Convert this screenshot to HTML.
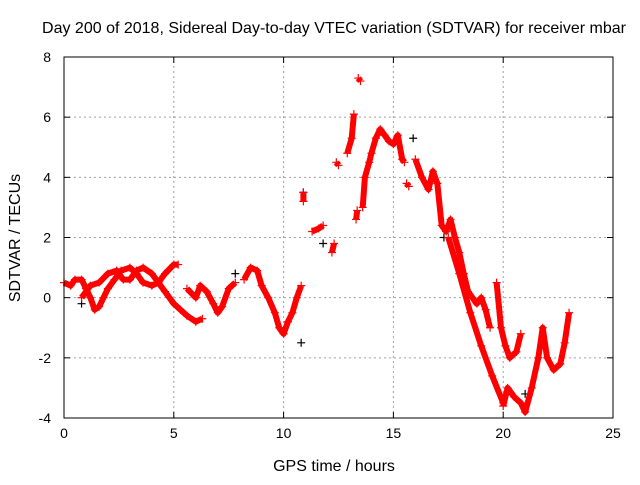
<!DOCTYPE html>
<html><head><meta charset="utf-8"><style>
body{margin:0;background:#fff}
svg text{font-family:"Liberation Sans",sans-serif;font-size:14px;fill:#000}
svg text.big{font-size:16px}
</style></head><body>
<svg id="chart" width="640" height="480">
<rect width="640" height="480" fill="#fff"/>
<text class="big" x="334" y="33" text-anchor="middle">Day 200 of 2018, Sidereal Day-to-day VTEC variation (SDTVAR) for receiver mbar</text>
<text class="big" x="334" y="471" text-anchor="middle">GPS time / hours</text>
<text class="big" transform="translate(20,238) rotate(-90)" text-anchor="middle">SDTVAR / TECUs</text>
<g id="grid"></g><g id="marks"></g><g id="axes"></g>
</svg>
<script>
const xTicks=[0,5,10,15,20,25];
const yTicks=[-4,-2,0,2,4,6,8];
const seriesATime=[0,0.3,0.5,0.8,1.0,1.2,1.4,1.6,1.8,2.0,2.3,2.6,3.0,3.3,3.6,4.0,4.3,4.6,5.0,5.2,null,5.6,6.0,6.2,6.5,6.8,7.0,7.2,7.5,7.8,null,8.2,8.5,8.8,9.0,9.3,9.6,9.8,10.0,10.2,10.4,10.6,10.8,null,10.9,10.9,null,11.3,11.6,11.8,null,12.2,12.3,null,12.4,12.5,null,12.9,13.1,13.2,null,13.3,13.35,null,13.4,13.5,null,13.6,13.7,13.9,14.0,14.2,14.4,14.6,14.8,15.0,15.2,15.4,15.5,null,15.6,15.7,null,16.0,16.3,16.6,16.8,17.0,17.2,17.4,17.6,17.8,18.0,18.2,18.4,18.6,18.8,19.0,19.2,19.4,null,19.7,19.9,20.1,20.3,20.6,20.8,null,20.0,20.2,20.5,20.8,21.0,21.3,21.6,21.8,22.0,22.3,22.6,22.8,23.0];
const seriesAVal=[0.5,0.4,0.6,0.6,0.3,0.0,-0.4,-0.3,0.0,0.3,0.6,0.9,1.0,0.8,0.5,0.4,0.5,0.8,1.1,1.1,null,0.3,0.0,0.4,0.2,-0.2,-0.5,-0.3,0.3,0.5,null,0.6,1.0,0.9,0.4,0.0,-0.5,-1.0,-1.2,-0.8,-0.5,0.0,0.4,null,3.2,3.5,null,2.2,2.3,2.4,null,1.5,1.8,null,4.5,4.4,null,4.8,5.3,6.1,null,2.6,2.9,null,7.3,7.2,null,3.0,4.0,4.5,4.8,5.3,5.6,5.4,5.2,5.1,5.4,4.6,4.5,null,3.8,3.7,null,4.6,4.0,3.6,4.2,3.8,2.4,2.2,2.6,2.0,1.5,0.8,0.2,0.0,-0.2,0.0,-0.4,-1.0,null,0.5,-1.0,-1.6,-2.0,-1.8,-1.2,null,-3.6,-3.0,-3.3,-3.5,-3.8,-3.0,-2.0,-1.0,-2.0,-2.4,-2.2,-1.5,-0.5];
const seriesBTime=[0.8,1.2,1.6,2.0,2.4,2.7,3.0,3.3,3.6,4.0,4.3,4.6,5.0,5.3,5.6,6.0,6.3,null,17.5,18.0,18.5,19.0,19.5,20.0];
const seriesBVal=[0.0,0.4,0.5,0.8,0.9,0.6,0.6,0.9,1.0,0.8,0.5,0.2,-0.2,-0.4,-0.6,-0.8,-0.7,null,2.0,0.8,-0.5,-1.6,-2.6,-3.5];
const blackTime=[0.8,7.8,10.8,10.9,11.8,15.9,17.3,21.0];
const blackVal=[-0.2,0.8,-1.5,3.5,1.8,5.3,2.0,-3.2];
const NS="http://www.w3.org/2000/svg";
const X0=64,X1=613,Y0=418,Y1=57;
const xs=t=>X0+(t-0)/(25-0)*(X1-X0);
const ys=v=>Y0-(v+4)/(12)*(Y0-Y1);
function mk(tag,attrs,parent){const e=document.createElementNS(NS,tag);for(const k in attrs)e.setAttribute(k,attrs[k]);parent.appendChild(e);return e;}
const grid=document.getElementById('grid'),axes=document.getElementById('axes'),marks=document.getElementById('marks');
xTicks.forEach(t=>{
 if(t>0&&t<25){const g=mk('line',{x1:xs(t),x2:xs(t),y1:Y0,y2:Y1,stroke:'#a0a0a0','stroke-dasharray':'2,3'},grid);
 
 }
 mk('line',{x1:xs(t),x2:xs(t),y1:Y0,y2:Y0-6,stroke:'#000'},axes);
 mk('line',{x1:xs(t),x2:xs(t),y1:Y1,y2:Y1+6,stroke:'#000'},axes);
 const tx=mk('text',{x:xs(t),y:Y0+20,'text-anchor':'middle'},axes);tx.textContent=t;
 
 
});
yTicks.forEach(v=>{
 if(v>-4&&v<8){const g=mk('line',{x1:X0,x2:X1,y1:ys(v),y2:ys(v),stroke:'#a0a0a0','stroke-dasharray':'2,3'},grid);
 
 }
 mk('line',{x1:X0,x2:X0+6,y1:ys(v),y2:ys(v),stroke:'#000'},axes);
 mk('line',{x1:X1,x2:X1-6,y1:ys(v),y2:ys(v),stroke:'#000'},axes);
 const tx=mk('text',{x:X0-13,y:ys(v)+5,'text-anchor':'end'},axes);tx.textContent=v;
 
 
});
const fr=mk('rect',{x:X0,y:Y1,width:X1-X0,height:Y0-Y1,fill:'none',stroke:'#000'},axes);


function drawSeries(T,V,color,name,line){
 const g=mk('g',{},marks);
 
 
 if(line){let d='',pen=false;
  for(let i=0;i<T.length;i++){if(T[i]===null){pen=false;continue;}
   d+=(pen?'L':'M')+xs(T[i]).toFixed(1)+' '+ys(V[i]).toFixed(1)+' ';pen=true;}
  mk('path',{d:d,fill:'none',stroke:color,'stroke-width':6,'stroke-linejoin':'round'},g);}
 for(let i=0;i<T.length;i++){if(T[i]===null)continue;const x=xs(T[i]),y=ys(V[i]);
  const p=mk('path',{d:`M${x-4} ${y}H${x+4}M${x} ${y-4}V${y+4}`,stroke:color,'stroke-width':1.2},g);
  
  }
}
drawSeries(blackTime,blackVal,'#000','black-points',false);
drawSeries(seriesATime,seriesAVal,'#ff0000','series-a',true);
drawSeries(seriesBTime,seriesBVal,'#ff0000','series-b',true);
</script>
</body></html>
